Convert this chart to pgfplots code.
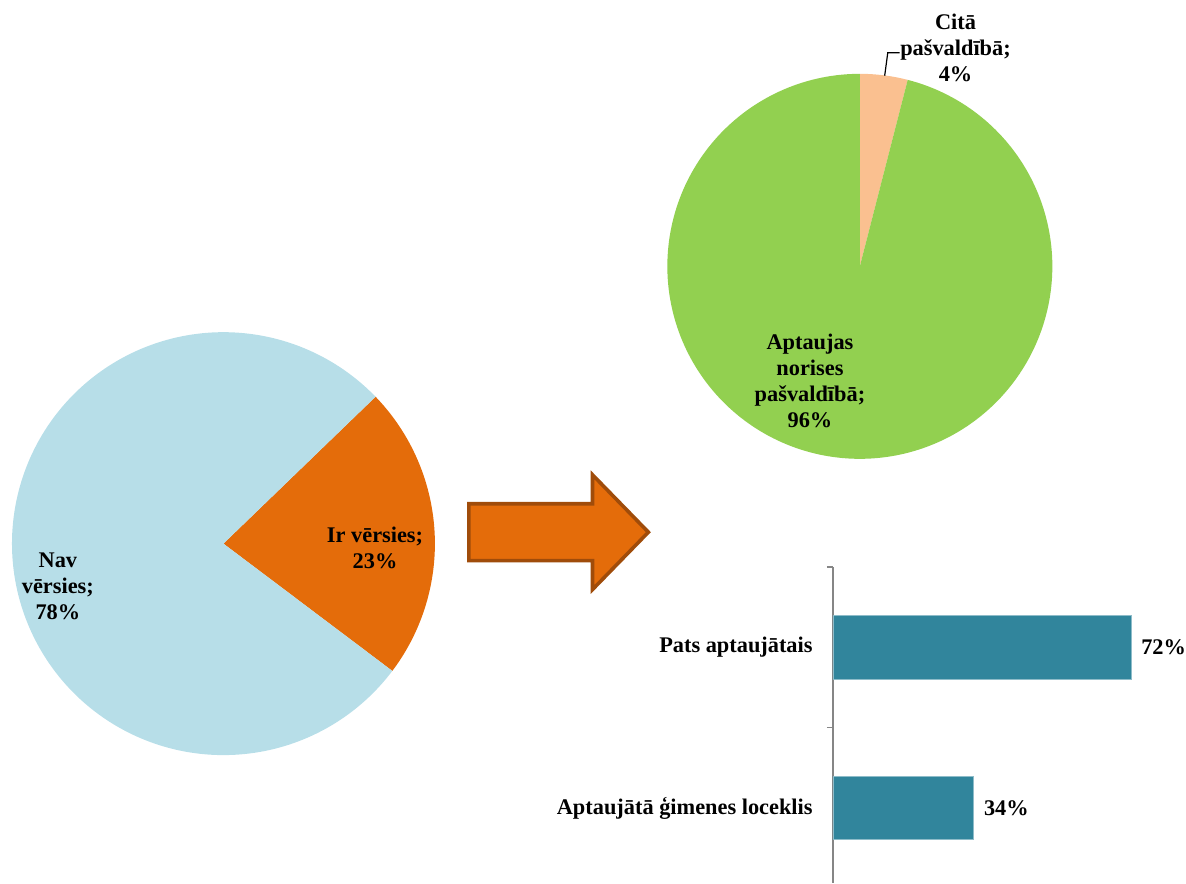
\documentclass[border=0pt]{standalone}
\usepackage{pgfplots}
\pgfplotsset{compat=1.18}
\usepackage{fontspec}
\setmainfont{Liberation Serif}
\definecolor{lblue}{HTML}{B7DEE8}
\definecolor{dorange}{HTML}{E46C0A}
\definecolor{peach}{HTML}{FAC090}
\definecolor{lgreen}{HTML}{92D050}
\definecolor{barteal}{HTML}{31859C}
\definecolor{arrowbrown}{HTML}{A04C0A}
\definecolor{axgray}{HTML}{868686}
\newcommand{\lbl}{\fontsize{11.2}{13}\selectfont\bfseries}
% pie values (percent)
\def\IrV{22.5}\def\NavV{77.5}
\def\CitaV{4}\def\AptV{96}
\pgfmathsetmacro{\pA}{44}
\pgfmathsetmacro{\pB}{\pA-\IrV*3.6}
\pgfmathsetmacro{\pC}{\pB-\NavV*3.6}
\pgfmathsetmacro{\qA}{90}
\pgfmathsetmacro{\qB}{\qA-\CitaV*3.6}
\pgfmathsetmacro{\qC}{\qB-\AptV*3.6}
\begin{document}
\begin{tikzpicture}
\path (0,0) rectangle (593pt,442.5pt);
% left pie
\begin{axis}[at={(112pt,170pt)}, anchor=center, scale only axis,
  width=212pt, height=212pt, xmin=-1, xmax=1, ymin=-1, ymax=1,
  hide axis, clip=false]
\addplot[fill=dorange, draw=none, domain=\pB:\pA, samples=80] ({cos(x)},{sin(x)}) -- (axis cs:0,0) -- cycle;
\addplot[fill=lblue, draw=none, domain=\pC:\pB, samples=200] ({cos(x)},{sin(x)}) -- (axis cs:0,0) -- cycle;
\node[font=\lbl, align=center] at (axis cs:0.717,-0.02) {Ir vērsies;\\23\%};
\node[font=\lbl, align=center] at (axis cs:-0.783,-0.203) {Nav\\vērsies;\\78\%};
\end{axis}
% top pie
\begin{axis}[at={(431pt,309pt)}, anchor=center, scale only axis,
  width=193pt, height=193pt, xmin=-1, xmax=1, ymin=-1, ymax=1,
  hide axis, clip=false]
\addplot[fill=peach, draw=none, domain=\qB:\qA, samples=40] ({cos(x)},{sin(x)}) -- (axis cs:0,0) -- cycle;
\addplot[fill=lgreen, draw=none, domain=\qC:\qB, samples=240] ({cos(x)},{sin(x)}) -- (axis cs:0,0) -- cycle;
\node[font=\lbl, align=center] at (axis cs:-0.259,-0.596) {Aptaujas\\norises\\pašvaldībā;\\96\%};
\node[font=\lbl, align=center] at (axis cs:0.497,1.135) {Citā\\pašvaldībā;\\4\%};
\draw[black, line width=0.6pt] (axis cs:0.129,0.99) -- (axis cs:0.145,1.109) -- (axis cs:0.207,1.109);
\end{axis}
% arrow
\draw[fill=dorange, draw=arrowbrown, line width=1.8pt, line join=miter]
  (235pt,190pt) -- (297pt,190pt) -- (297pt,204.5pt) -- (325pt,175.75pt)
  -- (297pt,147pt) -- (297pt,161.5pt) -- (235pt,161.5pt) -- cycle;
% bar chart
\begin{axis}[at={(417.5pt,0pt)}, anchor=south west, scale only axis,
  width=166pt, height=158.3pt, xmin=0, xmax=80, ymin=-0.466, ymax=1.5,
  axis x line=none, axis y line=left, y axis line style={-, draw=axgray, line width=0.6pt},
  xbar, bar width=32pt,
  ytick={0,1}, yticklabels={Aptaujātā ģimenes loceklis, Pats aptaujātais},
  major tick length=0pt, minor ytick={0.5,1.5}, minor tick length=3pt,
  tick align=outside, tick style={draw=axgray, line width=0.6pt},
  yticklabel style={font=\lbl, inner sep=0pt, anchor=east}, yticklabel shift=10pt,
  nodes near coords={\pgfplotspointmeta\%},
  nodes near coords style={font=\lbl, inner sep=0pt, anchor=west, xshift=5pt},
  point meta=explicit symbolic, clip=false]
\addplot[fill=barteal, draw=barteal!55, line width=0.4pt] coordinates {(34,0) [34] (72,1) [72]};
\end{axis}
\end{tikzpicture}
\end{document}
